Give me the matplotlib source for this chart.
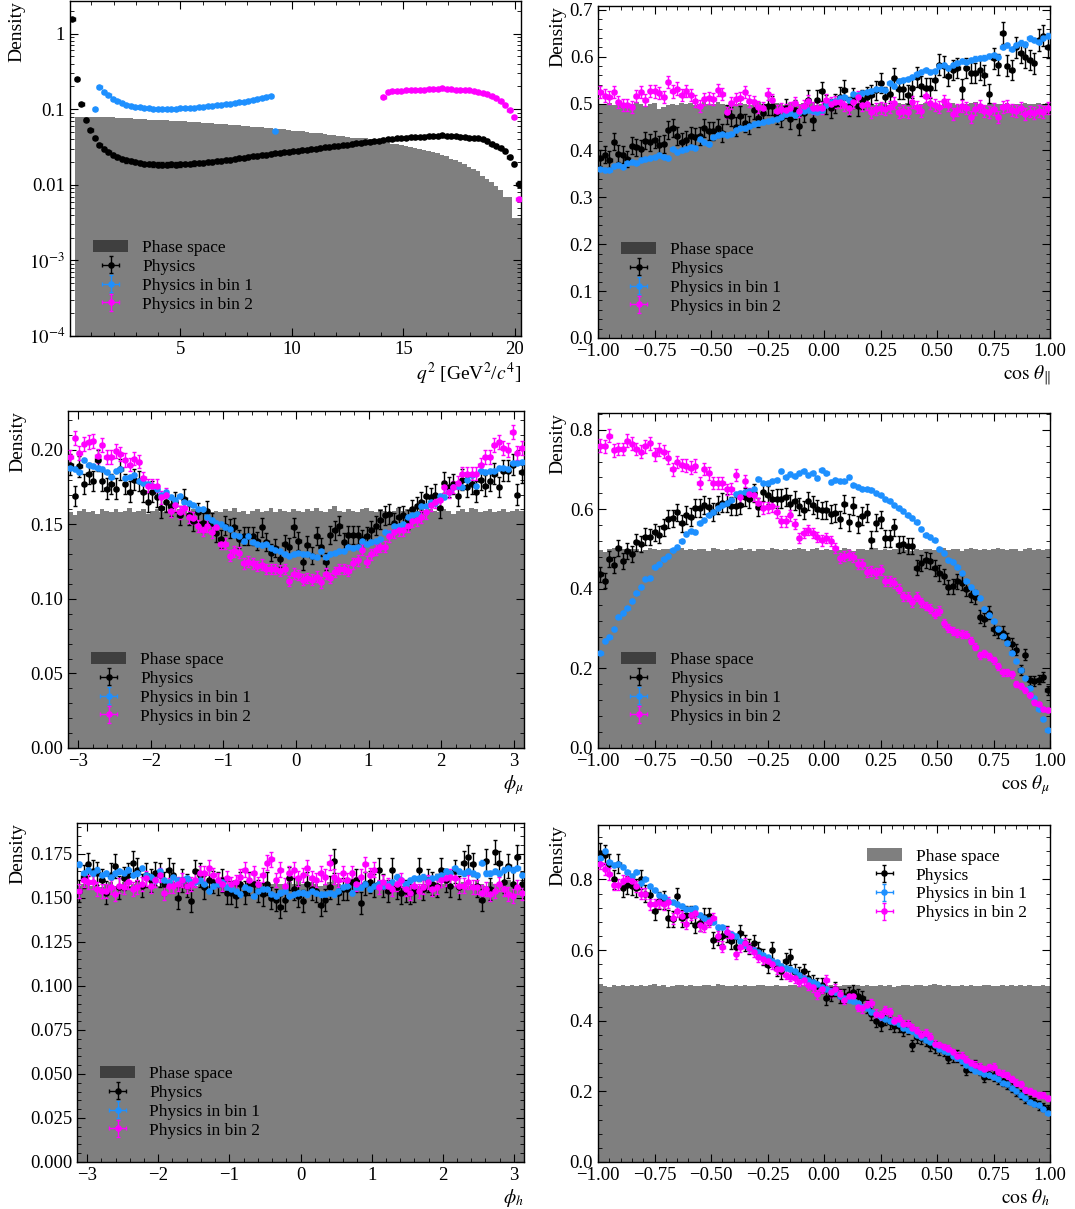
import numpy as np
import matplotlib
matplotlib.use("Agg")
import matplotlib.pyplot as plt
from matplotlib.ticker import AutoMinorLocator, FixedLocator, FixedFormatter, LogLocator, NullFormatter

nan = np.nan

# ---- binning (100 bins per variable) ----
N_BINS = 100
Q2_MIN, Q2_MAX = 0.045, 20.28

# number of events behind each sample (sets the Poisson error bars)
N_PHYS = 60000
N_BIN1 = 1500000
N_BIN2 = 150000

# ---- q^2 ----
q2_phase = [
    0.0, 0.078, 0.079, 0.079, 0.080, 0.080, 0.079, 0.079, 0.078, 0.078,
    0.077, 0.077, 0.076, 0.076, 0.075, 0.075, 0.074, 0.073, 0.073, 0.072,
    0.072, 0.071, 0.070, 0.070, 0.069, 0.069, 0.068, 0.068, 0.067, 0.066,
    0.066, 0.065, 0.064, 0.064, 0.063, 0.062, 0.062, 0.061, 0.060, 0.060,
    0.059, 0.058, 0.058, 0.057, 0.056, 0.055, 0.055, 0.054, 0.053, 0.052,
    0.052, 0.051, 0.050, 0.049, 0.048, 0.048, 0.047, 0.046, 0.045, 0.044,
    0.044, 0.043, 0.042, 0.042, 0.041, 0.041, 0.040, 0.040, 0.039, 0.036,
    0.036, 0.035, 0.035, 0.034, 0.033, 0.032, 0.031, 0.030, 0.029, 0.028,
    0.027, 0.026, 0.025, 0.024, 0.022, 0.021, 0.020, 0.019, 0.017, 0.016,
    0.015, 0.013, 0.012, 0.011, 0.0095, 0.0085, 0.0069, 0.0069, 0.0036, 0.0036]
q2_phys = [
    1.55, 0.254, 0.116, 0.073, 0.053, 0.042, 0.034, 0.030, 0.027, 0.025,
    0.0235, 0.022, 0.021, 0.0205, 0.020, 0.0195, 0.019, 0.0188, 0.0186, 0.0185,
    0.0185, 0.0185, 0.0186, 0.0185, 0.0187, 0.0189, 0.019, 0.0192, 0.0193, 0.0196,
    0.0199, 0.0202, 0.0205, 0.0208, 0.0212, 0.0216, 0.022, 0.0224, 0.0228, 0.0232,
    0.0237, 0.0242, 0.0246, 0.0251, 0.0256, 0.0261, 0.0265, 0.0269, 0.0273, 0.0277,
    0.0282, 0.0287, 0.0292, 0.0297, 0.0302, 0.0307, 0.0312, 0.0318, 0.0323, 0.0328,
    0.0334, 0.034, 0.0346, 0.0352, 0.0358, 0.0364, 0.037, 0.0377, 0.0385, 0.0392,
    0.0398, 0.0404, 0.041, 0.0415, 0.042, 0.0424, 0.0428, 0.043, 0.0433, 0.0436,
    0.0438, 0.044, 0.0452, 0.0442, 0.044, 0.0437, 0.0433, 0.0428, 0.0422, 0.0414,
    0.041, 0.040, 0.038, 0.035, 0.033, 0.031, 0.028, 0.0236, 0.0188, 0.0102]
q2_bin1 = [nan] * 5 + [
    0.102, 0.194, 0.170, 0.152, 0.138, 0.128, 0.121, 0.115, 0.111, 0.108,
    0.106, 0.104, 0.103, 0.102, 0.102, 0.102, 0.102, 0.102, 0.101, 0.103,
    0.104, 0.105, 0.104, 0.106, 0.107, 0.109, 0.110, 0.112, 0.114, 0.116,
    0.118, 0.121, 0.123, 0.126, 0.129, 0.133, 0.137, 0.141, 0.145, 0.149,
    0.052] + [nan] * 54
q2_bin2 = [nan] * 69 + [
    0.146, 0.168, 0.172, 0.175, 0.176, 0.177, 0.178, 0.179, 0.181, 0.182,
    0.183, 0.183, 0.184, 0.188, 0.184, 0.183, 0.182, 0.181, 0.179, 0.177,
    0.174, 0.170, 0.165, 0.158, 0.150, 0.140, 0.128, 0.113, 0.097, 0.079,
    0.0065]

# ---- cos theta_l ----
ctl_phase = [
    0.500, 0.498, 0.502, 0.497, 0.499, 0.501, 0.496, 0.500, 0.503, 0.498,
    0.494, 0.499, 0.501, 0.489, 0.492, 0.497, 0.500, 0.496, 0.502, 0.499,
    0.501, 0.497, 0.499, 0.503, 0.498, 0.500, 0.504, 0.499, 0.497, 0.501,
    0.498, 0.502, 0.500, 0.496, 0.499, 0.503, 0.497, 0.500, 0.498, 0.501,
    0.499, 0.497, 0.502, 0.500, 0.498, 0.501, 0.499, 0.503, 0.496, 0.500,
    0.502, 0.498, 0.500, 0.497, 0.501, 0.499, 0.495, 0.500, 0.502, 0.498,
    0.500, 0.497, 0.501, 0.499, 0.496, 0.500, 0.502, 0.498, 0.501, 0.499,
    0.497, 0.500, 0.502, 0.498, 0.501, 0.496, 0.500, 0.499, 0.502, 0.497,
    0.500, 0.498, 0.501, 0.503, 0.499, 0.497, 0.500, 0.502, 0.498, 0.500,
    0.501, 0.497, 0.500, 0.499, 0.502, 0.498, 0.500, 0.501, 0.499, 0.502]
ctl_phys = [
    0.384, 0.391, 0.380, 0.419, 0.393, 0.391, 0.382, 0.410, 0.407, 0.403,
    0.421, 0.417, 0.423, 0.412, 0.414, 0.443, 0.448, 0.430, 0.419, 0.423,
    0.430, 0.429, 0.430, 0.448, 0.441, 0.441, 0.448, 0.437, 0.476, 0.473,
    0.451, 0.474, 0.458, 0.455, 0.487, 0.469, 0.480, 0.495, 0.495, 0.476,
    0.469, 0.490, 0.466, 0.487, 0.453, 0.480, 0.508, 0.464, 0.508, 0.526,
    0.498, 0.490, 0.500, 0.515, 0.529, 0.494, 0.512, 0.494, 0.508, 0.515,
    0.519, 0.528, 0.544, 0.515, 0.521, 0.554, 0.531, 0.530, 0.519, 0.533,
    0.556, 0.537, 0.533, 0.533, 0.551, 0.583, 0.579, 0.559, 0.572, 0.576,
    0.531, 0.576, 0.566, 0.565, 0.571, 0.561, 0.521, 0.597, 0.583, 0.650,
    0.581, 0.571, 0.620, 0.608, 0.599, 0.593, 0.586, 0.636, 0.645, 0.620]
ctl_bin1 = [
    0.360, 0.358, 0.359, 0.366, 0.369, 0.365, 0.373, 0.376, 0.374, 0.380,
    0.381, 0.383, 0.385, 0.391, 0.387, 0.383, 0.402, 0.397, 0.400, 0.404,
    0.408, 0.405, 0.425, 0.418, 0.413, 0.428, 0.433, 0.434, 0.433, 0.436,
    0.444, 0.447, 0.448, 0.452, 0.457, 0.459, 0.460, 0.462, 0.464, 0.468,
    0.472, 0.478, 0.480, 0.475, 0.483, 0.485, 0.487, 0.484, 0.482, 0.487,
    0.497, 0.504, 0.506, 0.512, 0.515, 0.508, 0.520, 0.518, 0.522, 0.524,
    0.527, 0.530, 0.532, 0.529, 0.543, 0.538, 0.549, 0.551, 0.552, 0.556,
    0.563, 0.567, 0.571, 0.568, 0.570, 0.580, 0.582, 0.575, 0.583, 0.587,
    0.590, 0.588, 0.592, 0.596, 0.597, 0.598, 0.602, 0.604, 0.600, 0.620,
    0.625, 0.617, 0.624, 0.630, 0.626, 0.639, 0.636, 0.632, 0.640, 0.645]
ctl_bin2 = [
    0.524, 0.517, 0.513, 0.525, 0.503, 0.497, 0.497, 0.493, 0.516, 0.525,
    0.508, 0.527, 0.526, 0.523, 0.514, 0.546, 0.526, 0.532, 0.518, 0.527,
    0.518, 0.505, 0.495, 0.509, 0.511, 0.509, 0.529, 0.520, 0.481, 0.502,
    0.510, 0.511, 0.524, 0.506, 0.504, 0.493, 0.490, 0.520, 0.508, 0.485,
    0.488, 0.487, 0.490, 0.501, 0.484, 0.495, 0.505, 0.490, 0.491, 0.490,
    0.507, 0.500, 0.503, 0.504, 0.496, 0.491, 0.503, 0.513, 0.496, 0.499,
    0.481, 0.488, 0.491, 0.489, 0.493, 0.501, 0.481, 0.485, 0.481, 0.503,
    0.493, 0.485, 0.517, 0.502, 0.497, 0.492, 0.505, 0.496, 0.477, 0.487,
    0.494, 0.490, 0.471, 0.488, 0.494, 0.485, 0.482, 0.489, 0.471, 0.493,
    0.495, 0.486, 0.485, 0.490, 0.478, 0.483, 0.479, 0.485, 0.482, 0.490]

# ---- phi_mu ----
phm_phase = [
    0.158, 0.156, 0.159, 0.160, 0.158, 0.159, 0.157, 0.160, 0.159, 0.158,
    0.160, 0.158, 0.159, 0.161, 0.158, 0.159, 0.160, 0.157, 0.159, 0.160,
    0.158, 0.159, 0.161, 0.158, 0.160, 0.159, 0.157, 0.160, 0.158, 0.159,
    0.160, 0.158, 0.159, 0.158, 0.160, 0.159, 0.161, 0.158, 0.159, 0.157,
    0.159, 0.160, 0.158, 0.159, 0.161, 0.158, 0.160, 0.159, 0.158, 0.160,
    0.159, 0.158, 0.160, 0.159, 0.161, 0.159, 0.158, 0.160, 0.162, 0.159,
    0.158, 0.160, 0.159, 0.158, 0.160, 0.161, 0.159, 0.158, 0.160, 0.159,
    0.158, 0.159, 0.161, 0.159, 0.160, 0.158, 0.159, 0.160, 0.158, 0.160,
    0.159, 0.158, 0.160, 0.159, 0.157, 0.159, 0.160, 0.158, 0.161, 0.160,
    0.158, 0.159, 0.160, 0.158, 0.159, 0.160, 0.158, 0.159, 0.160, 0.159]
phm_phys = [
    0.190, 0.169, 0.189, 0.177, 0.184, 0.179, 0.193, 0.179, 0.174, 0.177,
    0.174, 0.187, 0.177, 0.172, 0.180, 0.179, 0.172, 0.165, 0.172, 0.168,
    0.161, 0.165, 0.162, 0.165, 0.156, 0.167, 0.156, 0.152, 0.158, 0.151,
    0.159, 0.151, 0.144, 0.140, 0.149, 0.147, 0.148, 0.140, 0.142, 0.142,
    0.142, 0.139, 0.148, 0.138, 0.131, 0.134, 0.127, 0.137, 0.135, 0.148,
    0.139, 0.125, 0.136, 0.129, 0.142, 0.135, 0.125, 0.143, 0.146, 0.149,
    0.138, 0.143, 0.143, 0.143, 0.140, 0.142, 0.146, 0.149, 0.153, 0.156,
    0.157, 0.151, 0.155, 0.156, 0.153, 0.160, 0.162, 0.165, 0.169, 0.168,
    0.170, 0.161, 0.178, 0.175, 0.177, 0.169, 0.180, 0.175, 0.177, 0.172,
    0.180, 0.176, 0.179, 0.184, 0.175, 0.186, 0.186, 0.190, 0.170, 0.185]
phm_bin1 = [
    0.188, 0.187, 0.185, 0.193, 0.190, 0.189, 0.188, 0.187, 0.185, 0.182,
    0.186, 0.187, 0.181, 0.182, 0.183, 0.179, 0.178, 0.177, 0.176, 0.174,
    0.170, 0.172, 0.168, 0.166, 0.169, 0.165, 0.164, 0.163, 0.160, 0.160,
    0.155, 0.153, 0.151, 0.150, 0.148, 0.147, 0.143, 0.142, 0.139, 0.142,
    0.138, 0.137, 0.136, 0.137, 0.134, 0.133, 0.132, 0.130, 0.129, 0.130,
    0.131, 0.130, 0.130, 0.129, 0.128, 0.132, 0.128, 0.130, 0.131, 0.132,
    0.132, 0.135, 0.134, 0.135, 0.139, 0.137, 0.138, 0.139, 0.140, 0.145,
    0.144, 0.149, 0.149, 0.150, 0.155, 0.156, 0.157, 0.162, 0.162, 0.165,
    0.164, 0.169, 0.168, 0.172, 0.175, 0.176, 0.175, 0.180, 0.183, 0.176,
    0.186, 0.185, 0.186, 0.186, 0.188, 0.188, 0.187, 0.191, 0.191, 0.192]
phm_bin2 = [
    0.195, 0.208, 0.198, 0.204, 0.205, 0.206, 0.196, 0.203, 0.195, 0.195,
    0.199, 0.197, 0.193, 0.190, 0.194, 0.192, 0.181, 0.176, 0.176, 0.176,
    0.168, 0.170, 0.159, 0.163, 0.158, 0.161, 0.155, 0.154, 0.149, 0.146,
    0.149, 0.145, 0.148, 0.137, 0.137, 0.129, 0.132, 0.131, 0.124, 0.125,
    0.124, 0.122, 0.123, 0.120, 0.120, 0.120, 0.119, 0.120, 0.112, 0.117,
    0.116, 0.113, 0.114, 0.113, 0.115, 0.111, 0.117, 0.114, 0.118, 0.120,
    0.120, 0.119, 0.124, 0.126, 0.133, 0.125, 0.130, 0.133, 0.135, 0.135,
    0.142, 0.145, 0.146, 0.146, 0.149, 0.152, 0.153, 0.155, 0.158, 0.163,
    0.165, 0.166, 0.175, 0.172, 0.175, 0.178, 0.184, 0.184, 0.184, 0.184,
    0.190, 0.195, 0.195, 0.203, 0.205, 0.201, 0.200, 0.212, 0.198, 0.201]

# ---- cos theta_mu ----
ctm_phase = [
    0.497, 0.493, 0.500, 0.502, 0.497, 0.499, 0.496, 0.501, 0.500, 0.495,
    0.498, 0.503, 0.500, 0.497, 0.499, 0.501, 0.496, 0.500, 0.502, 0.498,
    0.500, 0.497, 0.501, 0.499, 0.496, 0.503, 0.500, 0.498, 0.501, 0.497,
    0.499, 0.502, 0.498, 0.500, 0.496, 0.501, 0.499, 0.497, 0.502, 0.500,
    0.498, 0.501, 0.497, 0.500, 0.503, 0.499, 0.496, 0.500, 0.502, 0.498,
    0.501, 0.497, 0.500, 0.498, 0.502, 0.499, 0.496, 0.501, 0.500, 0.497,
    0.499, 0.502, 0.498, 0.500, 0.497, 0.501, 0.499, 0.503, 0.498, 0.496,
    0.500, 0.498, 0.501, 0.499, 0.497, 0.500, 0.502, 0.498, 0.501, 0.499,
    0.496, 0.500, 0.502, 0.499, 0.497, 0.501, 0.498, 0.500, 0.503, 0.499,
    0.497, 0.501, 0.499, 0.496, 0.500, 0.502, 0.498, 0.500, 0.497, 0.501]
ctm_phys = [
    0.437, 0.420, 0.476, 0.460, 0.502, 0.470, 0.496, 0.487, 0.517, 0.513,
    0.531, 0.530, 0.542, 0.536, 0.555, 0.576, 0.577, 0.592, 0.565, 0.586,
    0.580, 0.604, 0.604, 0.611, 0.605, 0.593, 0.611, 0.617, 0.616, 0.608,
    0.609, 0.610, 0.631, 0.626, 0.641, 0.606, 0.643, 0.636, 0.626, 0.627,
    0.627, 0.630, 0.614, 0.622, 0.607, 0.598, 0.621, 0.610, 0.600, 0.597,
    0.598, 0.588, 0.590, 0.575, 0.613, 0.567, 0.609, 0.562, 0.583, 0.591,
    0.524, 0.566, 0.575, 0.527, 0.527, 0.555, 0.511, 0.513, 0.508, 0.508,
    0.453, 0.465, 0.472, 0.470, 0.452, 0.440, 0.432, 0.405, 0.406, 0.419,
    0.415, 0.400, 0.385, 0.380, 0.330, 0.324, 0.340, 0.300, 0.292, 0.290,
    0.274, 0.262, 0.247, 0.196, 0.235, 0.170, 0.168, 0.172, 0.178, 0.145]
ctm_bin1 = [
    0.240, 0.270, 0.280, 0.298, 0.330, 0.340, 0.352, 0.370, 0.390, 0.405,
    0.425, 0.428, 0.455, 0.462, 0.475, 0.482, 0.497, 0.505, 0.520, 0.538,
    0.545, 0.542, 0.565, 0.572, 0.585, 0.592, 0.603, 0.610, 0.615, 0.623,
    0.638, 0.642, 0.644, 0.645, 0.652, 0.676, 0.665, 0.667, 0.670, 0.673,
    0.697, 0.680, 0.688, 0.683, 0.690, 0.696, 0.685, 0.692, 0.678, 0.698,
    0.690, 0.668, 0.673, 0.670, 0.670, 0.680, 0.660, 0.657, 0.652, 0.650,
    0.648, 0.640, 0.635, 0.625, 0.622, 0.610, 0.603, 0.595, 0.585, 0.578,
    0.568, 0.550, 0.535, 0.530, 0.522, 0.500, 0.490, 0.472, 0.468, 0.455,
    0.440, 0.420, 0.405, 0.392, 0.378, 0.350, 0.335, 0.318, 0.300, 0.282,
    0.265, 0.240, 0.218, 0.195, 0.175, 0.150, 0.125, 0.097, 0.072, 0.045]
ctm_bin2 = [
    0.760, 0.758, 0.785, 0.748, 0.752, 0.752, 0.772, 0.765, 0.752, 0.745,
    0.758, 0.766, 0.738, 0.750, 0.745, 0.730, 0.700, 0.718, 0.712, 0.710,
    0.705, 0.710, 0.665, 0.702, 0.690, 0.667, 0.667, 0.665, 0.650, 0.652,
    0.685, 0.630, 0.670, 0.638, 0.635, 0.615, 0.603, 0.605, 0.608, 0.593,
    0.570, 0.570, 0.585, 0.563, 0.528, 0.540, 0.548, 0.540, 0.530, 0.522,
    0.528, 0.520, 0.502, 0.478, 0.483, 0.485, 0.480, 0.462, 0.463, 0.443,
    0.445, 0.440, 0.448, 0.420, 0.420, 0.415, 0.400, 0.382, 0.380, 0.366,
    0.380, 0.366, 0.357, 0.350, 0.338, 0.345, 0.315, 0.302, 0.295, 0.290,
    0.287, 0.285, 0.270, 0.255, 0.233, 0.238, 0.230, 0.220, 0.205, 0.190,
    0.190, 0.185, 0.160, 0.155, 0.145, 0.132, 0.115, 0.110, 0.098, 0.095]

# ---- phi_h ----
phh_phase = [
    0.157, 0.158, 0.159, 0.157, 0.158, 0.156, 0.158, 0.159, 0.157, 0.158,
    0.159, 0.157, 0.158, 0.160, 0.158, 0.157, 0.159, 0.158, 0.157, 0.158,
    0.158, 0.159, 0.157, 0.158, 0.160, 0.158, 0.157, 0.158, 0.159, 0.157,
    0.158, 0.159, 0.158, 0.157, 0.158, 0.160, 0.158, 0.157, 0.159, 0.158,
    0.157, 0.158, 0.159, 0.158, 0.160, 0.158, 0.157, 0.159, 0.158, 0.160,
    0.158, 0.157, 0.159, 0.158, 0.157, 0.158, 0.159, 0.160, 0.158, 0.157,
    0.159, 0.158, 0.157, 0.158, 0.159, 0.158, 0.157, 0.159, 0.158, 0.157,
    0.158, 0.159, 0.157, 0.158, 0.160, 0.158, 0.157, 0.158, 0.159, 0.158,
    0.157, 0.158, 0.159, 0.158, 0.157, 0.158, 0.159, 0.157, 0.158, 0.160,
    0.158, 0.157, 0.159, 0.158, 0.157, 0.158, 0.160, 0.158, 0.157, 0.159]
phh_phys = [
    0.154, 0.162, 0.169, 0.165, 0.164, 0.160, 0.153, 0.163, 0.168, 0.156,
    0.161, 0.163, 0.170, 0.166, 0.157, 0.163, 0.160, 0.164, 0.163, 0.158,
    0.166, 0.163, 0.150, 0.160, 0.157, 0.148, 0.165, 0.163, 0.156, 0.160,
    0.159, 0.158, 0.160, 0.153, 0.153, 0.151, 0.158, 0.153, 0.158, 0.158,
    0.154, 0.152, 0.158, 0.150, 0.149, 0.145, 0.149, 0.161, 0.155, 0.151,
    0.148, 0.158, 0.155, 0.154, 0.146, 0.149, 0.156, 0.171, 0.153, 0.155,
    0.155, 0.159, 0.160, 0.147, 0.158, 0.159, 0.157, 0.166, 0.157, 0.154,
    0.166, 0.156, 0.153, 0.154, 0.153, 0.154, 0.166, 0.155, 0.160, 0.158,
    0.157, 0.166, 0.160, 0.157, 0.165, 0.156, 0.170, 0.173, 0.169, 0.157,
    0.149, 0.171, 0.155, 0.176, 0.170, 0.159, 0.168, 0.158, 0.173, 0.158]
phh_bin1 = [
    0.169, 0.164, 0.166, 0.164, 0.166, 0.163, 0.164, 0.162, 0.164, 0.165,
    0.164, 0.166, 0.163, 0.164, 0.167, 0.163, 0.162, 0.160, 0.165, 0.160,
    0.159, 0.162, 0.160, 0.160, 0.161, 0.159, 0.159, 0.160, 0.158, 0.154,
    0.157, 0.158, 0.159, 0.156, 0.155, 0.154, 0.152, 0.156, 0.155, 0.151,
    0.154, 0.155, 0.155, 0.152, 0.151, 0.153, 0.154, 0.151, 0.152, 0.153,
    0.153, 0.152, 0.154, 0.153, 0.152, 0.152, 0.153, 0.152, 0.154, 0.156,
    0.157, 0.153, 0.156, 0.156, 0.158, 0.155, 0.157, 0.158, 0.157, 0.158,
    0.159, 0.162, 0.160, 0.158, 0.160, 0.161, 0.161, 0.162, 0.160, 0.161,
    0.162, 0.163, 0.165, 0.164, 0.167, 0.165, 0.164, 0.165, 0.164, 0.163,
    0.170, 0.164, 0.164, 0.165, 0.164, 0.166, 0.167, 0.166, 0.167, 0.163]
phh_bin2 = [
    0.154, 0.160, 0.159, 0.159, 0.155, 0.154, 0.154, 0.156, 0.152, 0.157,
    0.156, 0.159, 0.155, 0.156, 0.158, 0.161, 0.157, 0.160, 0.163, 0.153,
    0.157, 0.157, 0.158, 0.160, 0.157, 0.158, 0.160, 0.164, 0.164, 0.167,
    0.163, 0.160, 0.158, 0.161, 0.158, 0.159, 0.162, 0.166, 0.160, 0.164,
    0.158, 0.163, 0.170, 0.172, 0.160, 0.166, 0.157, 0.164, 0.166, 0.161,
    0.163, 0.167, 0.161, 0.160, 0.164, 0.162, 0.170, 0.162, 0.160, 0.164,
    0.160, 0.164, 0.158, 0.162, 0.169, 0.163, 0.166, 0.156, 0.159, 0.157,
    0.155, 0.158, 0.160, 0.155, 0.153, 0.157, 0.154, 0.156, 0.159, 0.155,
    0.156, 0.160, 0.161, 0.162, 0.161, 0.157, 0.157, 0.159, 0.156, 0.156,
    0.153, 0.155, 0.152, 0.154, 0.158, 0.155, 0.152, 0.151, 0.156, 0.153]

# ---- cos theta_h ----
cth_phase = [
    0.503, 0.499, 0.496, 0.500, 0.498, 0.501, 0.499, 0.502, 0.497, 0.500,
    0.499, 0.501, 0.503, 0.498, 0.500, 0.496, 0.499, 0.501, 0.500, 0.498,
    0.502, 0.499, 0.497, 0.500, 0.501, 0.498, 0.503, 0.500, 0.499, 0.497,
    0.500, 0.498, 0.501, 0.499, 0.497, 0.500, 0.502, 0.499, 0.498, 0.501,
    0.499, 0.497, 0.500, 0.502, 0.498, 0.500, 0.503, 0.499, 0.497, 0.500,
    0.498, 0.501, 0.499, 0.497, 0.500, 0.501, 0.499, 0.502, 0.498, 0.500,
    0.497, 0.499, 0.501, 0.498, 0.500, 0.496, 0.499, 0.501, 0.500, 0.498,
    0.500, 0.502, 0.499, 0.501, 0.503, 0.500, 0.498, 0.501, 0.499, 0.497,
    0.500, 0.498, 0.501, 0.499, 0.497, 0.500, 0.502, 0.499, 0.498, 0.500,
    0.499, 0.501, 0.497, 0.500, 0.498, 0.501, 0.499, 0.497, 0.500, 0.498]
cth_phys = [
    0.875, 0.870, 0.845, 0.800, 0.845, 0.775, 0.785, 0.780, 0.775, 0.800,
    0.760, 0.755, 0.710, 0.740, 0.742, 0.690, 0.688, 0.752, 0.690, 0.700,
    0.700, 0.672, 0.677, 0.694, 0.696, 0.628, 0.636, 0.640, 0.645, 0.625,
    0.610, 0.648, 0.620, 0.610, 0.621, 0.600, 0.580, 0.558, 0.600, 0.548,
    0.540, 0.570, 0.580, 0.538, 0.530, 0.540, 0.520, 0.510, 0.500, 0.500,
    0.465, 0.475, 0.490, 0.470, 0.470, 0.475, 0.480, 0.470, 0.465, 0.440,
    0.420, 0.400, 0.390, 0.405, 0.395, 0.385, 0.385, 0.375, 0.380, 0.330,
    0.355, 0.350, 0.345, 0.330, 0.325, 0.320, 0.315, 0.295, 0.300, 0.300,
    0.290, 0.260, 0.270, 0.275, 0.260, 0.240, 0.250, 0.245, 0.235, 0.230,
    0.220, 0.210, 0.200, 0.190, 0.180, 0.175, 0.170, 0.160, 0.155, 0.150]
cth_bin1 = [
    0.860, 0.880, 0.850, 0.840, 0.845, 0.835, 0.820, 0.810, 0.820, 0.790,
    0.800, 0.780, 0.770, 0.755, 0.750, 0.740, 0.735, 0.730, 0.725, 0.715,
    0.715, 0.720, 0.700, 0.690, 0.685, 0.680, 0.665, 0.665, 0.650, 0.645,
    0.640, 0.625, 0.615, 0.605, 0.600, 0.595, 0.585, 0.580, 0.570, 0.565,
    0.555, 0.550, 0.545, 0.540, 0.530, 0.520, 0.515, 0.510, 0.505, 0.495,
    0.490, 0.485, 0.480, 0.470, 0.465, 0.460, 0.455, 0.450, 0.440, 0.435,
    0.425, 0.420, 0.410, 0.405, 0.400, 0.395, 0.390, 0.380, 0.375, 0.370,
    0.360, 0.355, 0.345, 0.340, 0.330, 0.320, 0.315, 0.310, 0.300, 0.295,
    0.285, 0.275, 0.265, 0.258, 0.255, 0.250, 0.245, 0.240, 0.235, 0.225,
    0.220, 0.210, 0.200, 0.190, 0.180, 0.170, 0.165, 0.160, 0.150, 0.140]
cth_bin2 = [
    0.845, 0.830, 0.815, 0.785, 0.785, 0.795, 0.800, 0.795, 0.780, 0.760,
    0.760, 0.730, 0.730, 0.735, 0.730, 0.735, 0.690, 0.710, 0.695, 0.675,
    0.700, 0.705, 0.670, 0.665, 0.680, 0.690, 0.640, 0.610, 0.650, 0.640,
    0.590, 0.610, 0.620, 0.605, 0.595, 0.580, 0.575, 0.570, 0.560, 0.545,
    0.545, 0.530, 0.525, 0.520, 0.510, 0.515, 0.500, 0.495, 0.475, 0.490,
    0.515, 0.480, 0.490, 0.475, 0.460, 0.470, 0.470, 0.440, 0.435, 0.445,
    0.450, 0.420, 0.415, 0.430, 0.425, 0.400, 0.405, 0.390, 0.390, 0.380,
    0.370, 0.360, 0.365, 0.355, 0.335, 0.330, 0.325, 0.320, 0.310, 0.300,
    0.300, 0.290, 0.280, 0.275, 0.270, 0.262, 0.268, 0.270, 0.255, 0.250,
    0.245, 0.235, 0.225, 0.220, 0.205, 0.200, 0.195, 0.190, 0.190, 0.180]

labels = ["Phase space", "Physics", "Physics in bin 1", "Physics in bin 2"]
colors = ["black", "#1e90ff", "#ff00ff"]

plt.rcParams["font.family"] = ["Liberation Serif", "DejaVu Serif"]
plt.rcParams["mathtext.fontset"] = "stix"
plt.rcParams["axes.linewidth"] = 1.0
plt.rcParams["xtick.direction"] = "in"
plt.rcParams["ytick.direction"] = "in"
plt.rcParams["xtick.top"] = True
plt.rcParams["ytick.right"] = True
plt.rcParams["xtick.major.size"] = 6
plt.rcParams["ytick.major.size"] = 6
plt.rcParams["xtick.minor.size"] = 3
plt.rcParams["ytick.minor.size"] = 3
plt.rcParams["xtick.labelsize"] = 13.5
plt.rcParams["ytick.labelsize"] = 13.5
plt.rcParams["axes.labelsize"] = 14
plt.rcParams["axes.labelpad"] = 2.5
plt.rcParams["legend.fontsize"] = 12.5
plt.rcParams["legend.labelspacing"] = 0.16
plt.rcParams["legend.borderaxespad"] = 0.95
plt.rcParams["legend.frameon"] = False

W, H = 1075, 1209
fig = plt.figure(figsize=(W / 100, H / 100), dpi=100)


def add_axes(left, right, top, bottom):
    return fig.add_axes([left / W, 1 - bottom / H, (right - left) / W, (bottom - top) / H])


def draw(ax, edges, phase, phys, bin1, bin2, log=False):
    centers = 0.5 * (edges[1:] + edges[:-1])
    width = np.diff(edges)
    base = 1e-6 if log else 0
    ax.stairs(phase, edges, fill=True, color="black", alpha=0.5, baseline=base,
              label=labels[0], zorder=1)
    for vals, n, col, lab in zip([phys, bin1, bin2], [N_PHYS, N_BIN1, N_BIN2], colors, labels[1:]):
        v = np.asarray(vals, dtype=float)
        err = np.sqrt(v / (n * width))
        ax.errorbar(centers, v, xerr=width / 2, yerr=err, fmt="o", ms=3.7, color=col,
                    ecolor=col, elinewidth=1.0, capsize=1.5, capthick=1.0, label=lab, zorder=3)
    ax.xaxis.set_minor_locator(AutoMinorLocator(5))
    if not log:
        ax.yaxis.set_minor_locator(AutoMinorLocator(5))
    ax.set_ylabel("Density", loc="top")


cos_edges = np.linspace(-1, 1, N_BINS + 1)
phi_edges = np.linspace(-np.pi, np.pi, N_BINS + 1)
q2_edges = np.linspace(Q2_MIN, Q2_MAX, N_BINS + 1)

# q^2 (log scale)
ax = add_axes(70, 521, 1, 336)
ax.set_yscale("log")
draw(ax, q2_edges, q2_phase, q2_phys, q2_bin1, q2_bin2, log=True)
ax.set_xlim(Q2_MIN, Q2_MAX)
ax.set_ylim(1e-4, 2.7)
ax.yaxis.set_major_locator(FixedLocator([1e-4, 1e-3, 1e-2, 1e-1, 1]))
ax.yaxis.set_major_formatter(FixedFormatter([r"$10^{-4}$", r"$10^{-3}$", "0.01", "0.1", "1"]))
ax.yaxis.set_minor_locator(LogLocator(base=10, subs=np.arange(2, 10), numticks=20))
ax.yaxis.set_minor_formatter(NullFormatter())
ax.set_xticks([5, 10, 15, 20])
ax.set_xlabel(r"$q^2$ [GeV$^2$/$c^4$]", loc="right")
ax.legend(loc="lower left")

# cos theta_l
ax = add_axes(598, 1050, 6, 338)
draw(ax, cos_edges, ctl_phase, ctl_phys, ctl_bin1, ctl_bin2)
ax.set_xlim(-1, 1)
ax.set_ylim(0, 0.708)
ax.set_xlabel(r"$\cos\,\theta_{\|}$", loc="right")
ax.legend(loc="lower left")

# phi_mu
ax = add_axes(68, 524, 411, 748)
draw(ax, phi_edges, phm_phase, phm_phys, phm_bin1, phm_bin2)
ax.set_xlim(-np.pi, np.pi)
ax.set_ylim(0, 0.226)
ax.set_xlabel(r"$\phi_\mu$", loc="right")
ax.legend(loc="lower left")

# cos theta_mu
ax = add_axes(598, 1050, 413, 748)
draw(ax, cos_edges, ctm_phase, ctm_phys, ctm_bin1, ctm_bin2)
ax.set_xlim(-1, 1)
ax.set_ylim(0, 0.842)
ax.set_xlabel(r"$\cos\,\theta_\mu$", loc="right")
ax.legend(loc="lower left")

# phi_h
ax = add_axes(77, 524, 823, 1162)
draw(ax, phi_edges, phh_phase, phh_phys, phh_bin1, phh_bin2)
ax.set_xlim(-np.pi, np.pi)
ax.set_ylim(0, 0.1925)
ax.set_xlabel(r"$\phi_h$", loc="right")
ax.legend(loc="lower left")

# cos theta_h
ax = add_axes(598, 1050, 825, 1162)
draw(ax, cos_edges, cth_phase, cth_phys, cth_bin1, cth_bin2)
ax.set_xlim(-1, 1)
ax.set_ylim(0, 0.954)
ax.set_xlabel(r"$\cos\,\theta_h$", loc="right")
ax.legend(loc="upper right")

fig.savefig("out.png", dpi=100)
